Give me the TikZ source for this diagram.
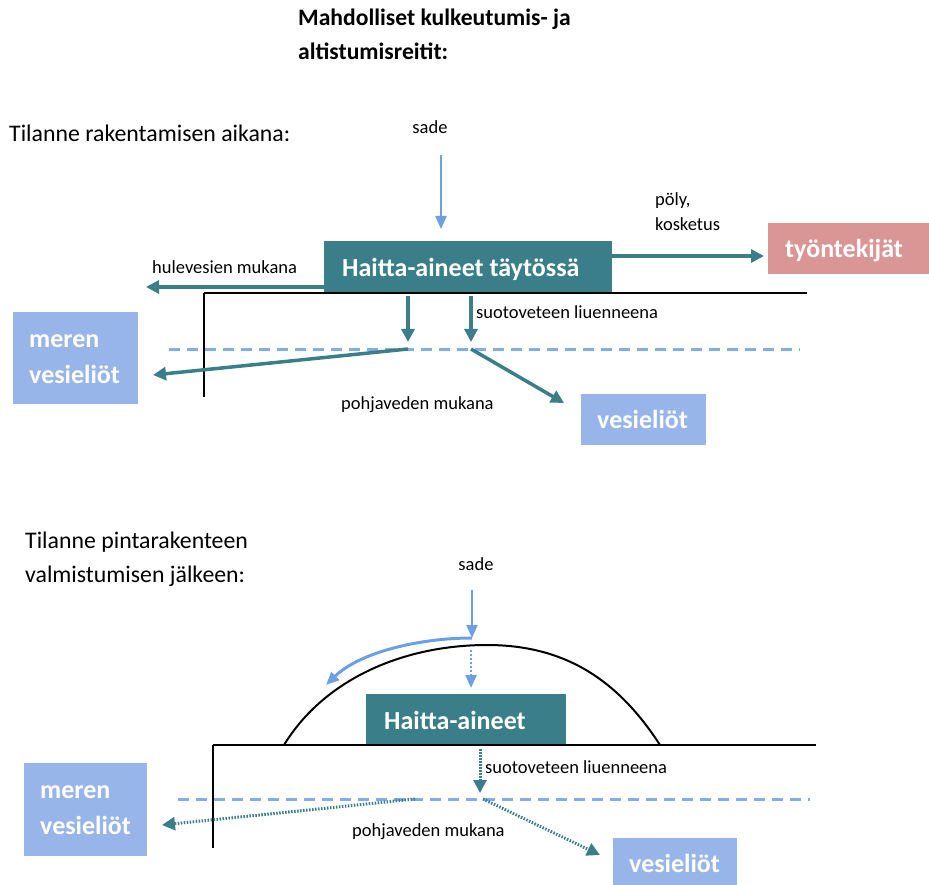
\documentclass[tikz,border=0pt]{standalone}
\usepackage{fontspec}
\setmainfont{Carlito}
\usetikzlibrary{arrows.meta}
\definecolor{teal1}{HTML}{3A7E89}
\definecolor{lblue}{HTML}{6C9FE3}
\definecolor{boxblue}{HTML}{97B5E8}
\definecolor{pinkb}{HTML}{D99694}
\tikzset{
  tarrow/.style={draw=teal1,line width=3.5pt,-{Triangle[length=13pt,width=13pt]}},
  tdot/.style={draw=teal1,line width=3pt,dash pattern=on 1.5pt off 1.5pt,-{Triangle[length=13pt,width=13pt]}},
  barrow/.style={draw=lblue,line width=2pt,-{Triangle[length=13pt,width=11pt]}},
  bdot/.style={draw=lblue,line width=2.5pt,dash pattern=on 2pt off 2pt,-{Triangle[length=13pt,width=11pt]}},
  wl/.style={draw=lblue!85,line width=3pt,dash pattern=on 11pt off 7pt},
  ground/.style={draw=black,line width=2.5pt},
  wall/.style={draw=black,line width=1.5pt},
  small/.style={font=\fontsize{18.5}{20}\selectfont,inner sep=0pt},
  big/.style={font=\fontsize{23.8}{26}\selectfont,inner sep=0pt},
  bigb/.style={font=\bfseries\fontsize{23.6}{26}\selectfont,inner sep=0pt},
  boxtxt/.style={text=white,font=\bfseries\fontsize{26}{28}\selectfont},
}
\begin{document}
\begin{tikzpicture}[x=1pt,y=-1pt]
\useasboundingbox (0,0) rectangle (929,885);
% titles
\node[bigb,anchor=base west] (t1) at (298,26) {Mahdolliset kulkeutumis- ja};
\node[bigb,anchor=base west] (t2) at (298,60) {altistumisreitit:};
\node[big,anchor=base west] (s1) at (9,142) {Tilanne rakentamisen aikana:};
% ---------- top scene ----------
\node[small,anchor=base] (sade1) at (430,134) {sade};
\coordinate (r1a) at (441,155);
\coordinate (r1b) at (441,229);
\draw[barrow] (r1a) -- (r1b);
\node[fill=teal1,minimum width=288pt,minimum height=52pt,anchor=north west,inner sep=0pt] (box1) at (324,241) {};
\node[boxtxt,anchor=base west,inner sep=0pt] (box1t) at (342,277) {Haitta-aineet täytössä};
\node[fill=pinkb,minimum width=161pt,minimum height=51pt,anchor=north west,inner sep=0pt] (work) at (768,223) {};
\node[boxtxt,anchor=base west,inner sep=0pt] (workt) at (785,258) {työntekijät};
\node[small,anchor=base west] (poly) at (655,206) {pöly,};
\node[small,anchor=base west] (kosk) at (655,231) {kosketus};
\coordinate (w0) at (612,256);
\coordinate (w1) at (764,256);
\draw[tarrow] (w0) -- (w1);
\node[small,anchor=base west] (hule) at (152,274) {hulevesien mukana};
\coordinate (h0) at (324,287);
\coordinate (h1) at (146,287);
\draw[tarrow] (h0) -- (h1);
\coordinate (g1a) at (204,293);
\coordinate (g1b) at (807,293);
\coordinate (g1c) at (204,397);
\draw[ground] (g1a) -- (g1b);
\draw[wall] (g1a) -- (g1c);
\coordinate (d1a) at (408,296);
\coordinate (d1b) at (408,342);
\coordinate (d2a) at (471,296);
\coordinate (d2b) at (471,342);
\draw[tarrow] (d1a) -- (d1b);
\draw[tarrow] (d2a) -- (d2b);
\node[small,anchor=base west] (suo1) at (476,319) {suotoveteen liuenneena};
\coordinate (wl1a) at (169,349);
\coordinate (wl1b) at (800,349);
\draw[wl] (wl1a) -- (wl1b);
\node[fill=boxblue,minimum width=125pt,minimum height=92pt,anchor=north west,inner sep=0pt] (sea1) at (13,312) {};
\node[boxtxt,anchor=base west,inner sep=0pt] (sea1t) at (29,347) {meren};
\node[boxtxt,anchor=base west,inner sep=0pt] (sea1u) at (29,383) {vesieliöt};
\node[fill=boxblue,minimum width=125pt,minimum height=51pt,anchor=north west,inner sep=0pt] (ves1) at (581,394) {};
\node[boxtxt,anchor=base west,inner sep=0pt] (ves1t) at (597,428) {vesieliöt};
\coordinate (p1a) at (408,349);
\coordinate (p1b) at (153,375);
\coordinate (p2a) at (471,349);
\coordinate (p2b) at (564,403);
\draw[tarrow] (p1a) -- (p1b);
\draw[tarrow] (p2a) -- (p2b);
\node[small,anchor=base west] (pohja1) at (341,409) {pohjaveden mukana};
% ---------- bottom scene ----------
\node[big,anchor=base west] (s2) at (25,548) {Tilanne pintarakenteen};
\node[big,anchor=base west] (s3) at (25,582) {valmistumisen jälkeen:};
\node[small,anchor=base] (sade2) at (476,570) {sade};
\coordinate (r2a) at (472,590);
\coordinate (r2b) at (472,638);
\draw[barrow] (r2a) -- (r2b);
\coordinate (c2) at (326,685);
\draw[barrow,line width=3pt] (r2b) .. controls (420,638) and (360,652) .. (c2);
\draw[black,line width=2pt] (284,745) .. controls (325,678) and (405,645) .. (487,645) .. controls (565,645) and (618,680) .. (660,745);
\coordinate (dd0) at (471,650);
\coordinate (dd1) at (471,688);
\draw[bdot] (dd0) -- (dd1);
\node[fill=teal1,minimum width=200pt,minimum height=51pt,anchor=north west,inner sep=0pt] (box2) at (366,694) {};
\node[boxtxt,anchor=base west,inner sep=0pt] (box2t) at (384,729) {Haitta-aineet};
\coordinate (g2a) at (213,745);
\coordinate (g2b) at (816,745);
\coordinate (g2c) at (213,848);
\draw[ground] (g2a) -- (g2b);
\draw[wall] (g2a) -- (g2c);
\coordinate (e0) at (480,749);
\coordinate (e1) at (480,793);
\draw[tdot] (e0) -- (e1);
\node[small,anchor=base west] (suo2) at (485,773) {suotoveteen liuenneena};
\coordinate (wl2a) at (178,799);
\coordinate (wl2b) at (810,799);
\draw[wl] (wl2a) -- (wl2b);
\node[fill=boxblue,minimum width=123pt,minimum height=93pt,anchor=north west,inner sep=0pt] (sea2) at (24,763) {};
\node[boxtxt,anchor=base west,inner sep=0pt] (sea2t) at (40,798) {meren};
\node[boxtxt,anchor=base west,inner sep=0pt] (sea2u) at (40,834) {vesieliöt};
\node[fill=boxblue,minimum width=124pt,minimum height=50pt,anchor=north west,inner sep=0pt] (ves2) at (613,838) {};
\node[boxtxt,anchor=base west,inner sep=0pt] (ves2t) at (629,872) {vesieliöt};
\coordinate (q1a) at (415,799);
\coordinate (q1b) at (162,825);
\coordinate (q2a) at (483,799);
\coordinate (q2b) at (600,855);
\draw[tdot] (q1a) -- (q1b);
\draw[tdot] (q2a) -- (q2b);
\node[small,anchor=base west] (pohja2) at (352,836) {pohjaveden mukana};
\end{tikzpicture}
\end{document}
